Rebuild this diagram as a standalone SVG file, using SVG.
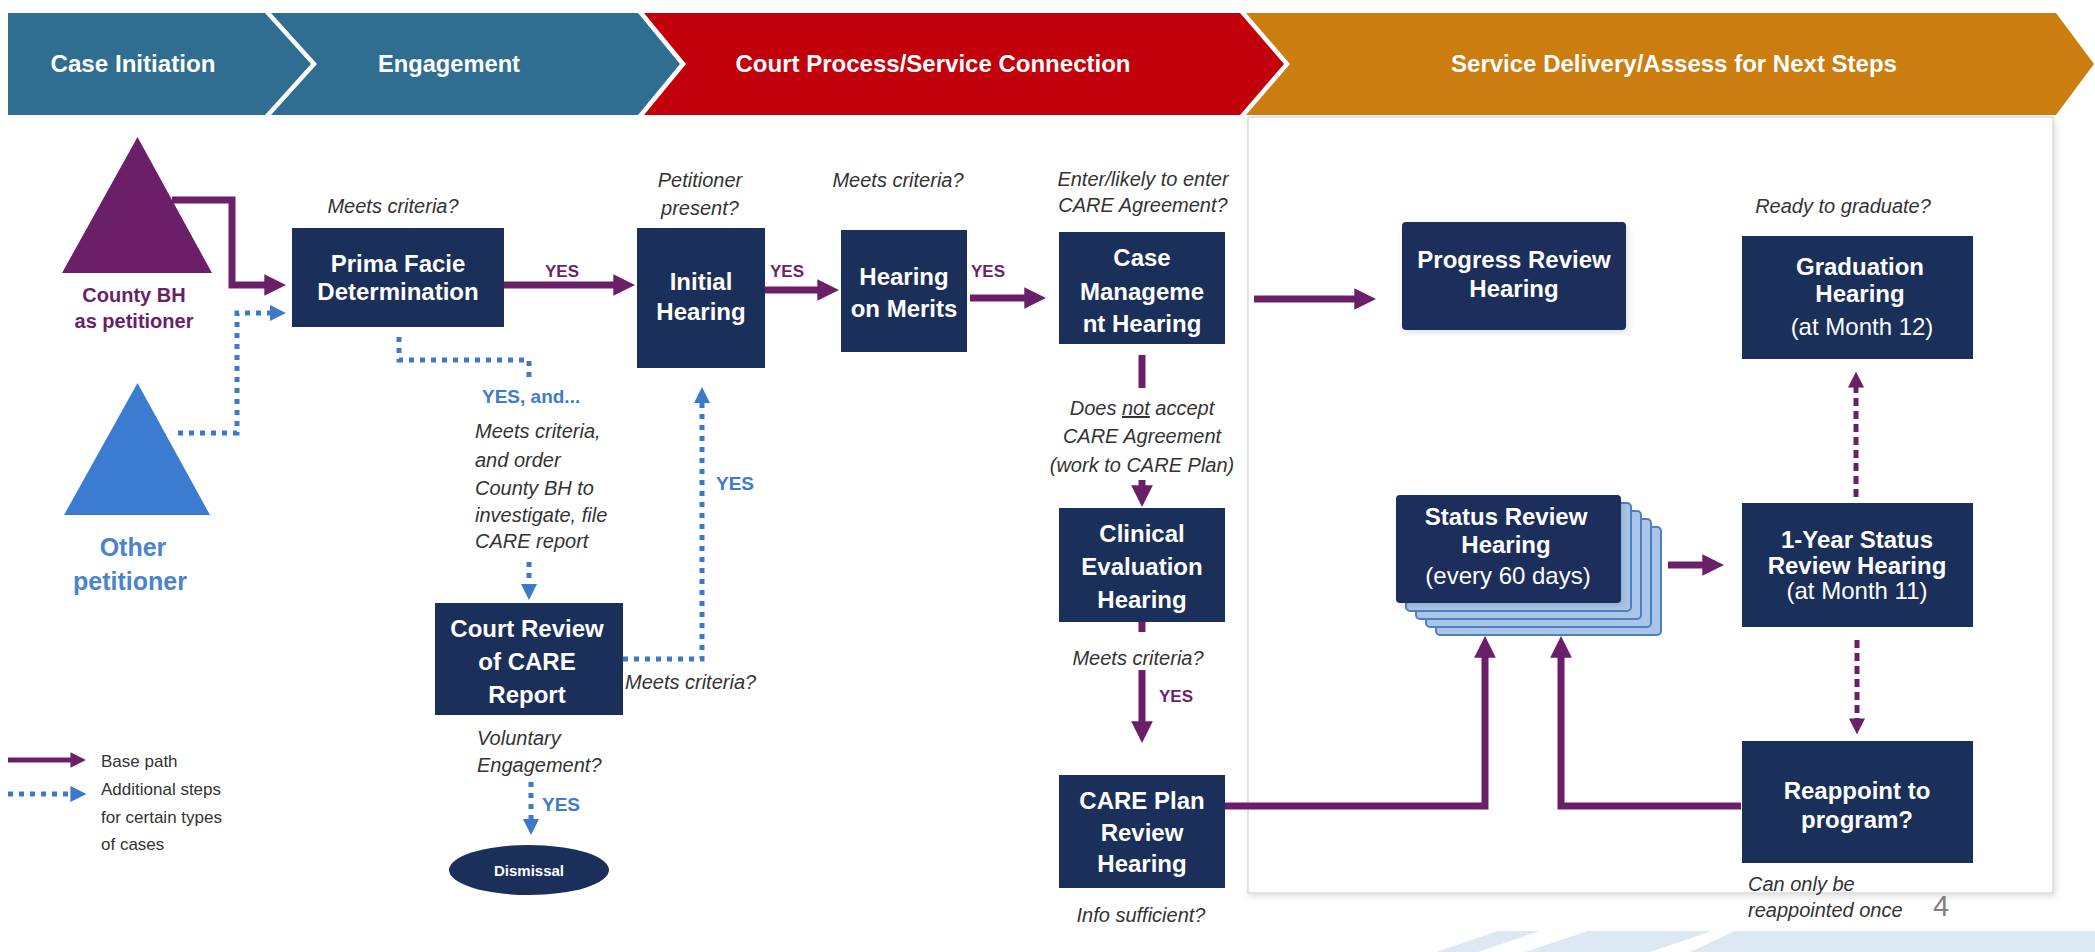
<svg xmlns="http://www.w3.org/2000/svg" width="2095" height="952" viewBox="0 0 2095 952">
<style>
.box{fill:#1B2F5B}
.bt{font-family:"Liberation Sans",Arial,sans-serif;font-weight:bold;font-size:24px;fill:#fff;text-anchor:middle}
.bn{font-family:"Liberation Sans",Arial,sans-serif;font-size:24px;fill:#fff;text-anchor:middle}
.it{font-family:"Liberation Sans",Arial,sans-serif;font-style:italic;font-size:20px;fill:#333}
.itc{text-anchor:middle}
.ban{font-family:"Liberation Sans",Arial,sans-serif;font-weight:bold;font-size:23px;fill:#fff;text-anchor:middle}
.yp{font-family:"Liberation Sans",Arial,sans-serif;font-weight:bold;font-size:17px;fill:#6B1F68;text-anchor:middle}
.yb{font-family:"Liberation Sans",Arial,sans-serif;font-weight:bold;font-size:19px;fill:#3E7BCB}
.leg{font-family:"Liberation Sans",Arial,sans-serif;font-size:17px;fill:#333}
.base{fill:none;stroke:#6B1F68;stroke-width:7;marker-end:url(#ap)}
.line{fill:none;stroke:#6B1F68;stroke-width:7}
.dotb{fill:none;stroke:#3D78C9;stroke-width:5;stroke-dasharray:5 6}
.dotba{fill:none;stroke:#3D78C9;stroke-width:5;stroke-dasharray:5 6;marker-end:url(#ab)}
.dotp{fill:none;stroke:#6B1F68;stroke-width:5;stroke-dasharray:8 5;marker-end:url(#ap2)}
.card{fill:#A9C6EA;stroke:#4F80BC;stroke-width:2}
</style>
<defs>
<marker id="ap" viewBox="0 0 10 10" refX="1" refY="5" markerWidth="3.1" markerHeight="3.1" orient="auto" markerUnits="strokeWidth"><path d="M0,0 L10,5 L0,10 z" fill="#6B1F68"/></marker>
<marker id="ap2" viewBox="0 0 10 10" refX="1" refY="5" markerWidth="3.2" markerHeight="3.4" orient="auto" markerUnits="strokeWidth"><path d="M0,0 L10,5 L0,10 z" fill="#6B1F68"/></marker>
<marker id="ab" viewBox="0 0 10 10" refX="1" refY="5" markerWidth="3.2" markerHeight="3.4" orient="auto" markerUnits="strokeWidth"><path d="M0,0 L10,5 L0,10 z" fill="#3D78C9"/></marker>
<filter id="sh" x="-5%" y="-5%" width="110%" height="110%"><feDropShadow dx="2" dy="3" stdDeviation="3" flood-color="#000" flood-opacity="0.12"/></filter>
</defs>

<!-- banner -->
<g id="banner">
<polygon points="8,13 265,13 311,64 265,115 8,115" fill="#2F6E91"/>
<polygon points="271,13 638,13 680,64 638,115 271,115 317,64" fill="#2F6E91"/>
<polygon points="644,13 1240,13 1284,64 1240,115 644,115 686,64" fill="#C1000B"/>
<polygon points="1246,13 2056,13 2094,64 2056,115 1246,115 1290,64" fill="#CB7D10"/>
<text class="ban" x="133" y="72" textLength="165" lengthAdjust="spacingAndGlyphs">Case Initiation</text>
<text class="ban" x="449" y="72" textLength="142" lengthAdjust="spacingAndGlyphs">Engagement</text>
<text class="ban" x="933" y="72" textLength="395" lengthAdjust="spacingAndGlyphs">Court Process/Service Connection</text>
<text class="ban" x="1674" y="72" textLength="446" lengthAdjust="spacingAndGlyphs">Service Delivery/Assess for Next Steps</text>
</g>

<!-- panel -->
<rect id="panel" x="1248" y="117" width="805" height="776" fill="#fff" stroke="#dcdcdc" stroke-width="1.5" filter="url(#sh)"/>

<!-- bottom decoration -->
<g id="deco" fill="#DCE8F4">
<polygon points="1436,952 1498,931 1540,931 1478,952"/>
<polygon points="1525,952 1588,931 1712,931 1650,952"/>
<polygon points="1690,952 1735,931 2095,931 2095,952"/>
</g>

<!-- connectors -->
<g id="connectors">
<path class="base" d="M172,200 H232 V285 H266.5"/>
<path class="base" d="M504,285 H615.5"/>
<path class="base" d="M765,290 H819.5"/>
<path class="base" d="M970,298 H1026.5"/>
<path class="base" d="M1254,299 H1356.5"/>
<path class="line" d="M1142,355 V388"/>
<path class="base" d="M1142,480 V487.5"/>
<path class="line" d="M1142,622 V632"/>
<path class="base" d="M1142,670 V723.5"/>
<path class="base" d="M1225,806 H1485 V655.5"/>
<path class="base" d="M1741,806 H1561 V655.5"/>
<path class="base" d="M1668,565 H1704.5"/>
<path class="dotp" d="M1856,497 V386"/>
<path class="dotp" d="M1857,640 V720"/>
<path class="dotba" d="M178,433 H237 V313 H271.5"/>
<path class="dotb" d="M399,337 V360 H529 V380"/>
<path class="dotba" d="M529,562 V585.6"/>
<path class="dotba" d="M623,659 H702 V401.4"/>
<path class="dotba" d="M531,782 V820.6"/>
<text class="yp" x="562" y="277">YES</text>
<text class="yp" x="787" y="277">YES</text>
<text class="yp" x="988" y="277">YES</text>
<text class="yp" x="1176" y="702">YES</text>
<text class="yb" x="716" y="490">YES</text>
<text class="yb" x="542" y="811">YES</text>
</g>

<!-- petitioners -->
<g id="county-bh">
<polygon points="137.5,137 62,273 212,273" fill="#6B1F68"/>
<text x="134" y="302" font-family="Liberation Sans, Arial, sans-serif" font-weight="bold" font-size="20" fill="#6B1F68" text-anchor="middle">County BH</text>
<text x="134" y="328" font-family="Liberation Sans, Arial, sans-serif" font-weight="bold" font-size="20" fill="#6B1F68" text-anchor="middle">as petitioner</text>
</g>
<g id="other-petitioner">
<polygon points="137.5,383 64,515 210,515" fill="#3C7CD0"/>
<text x="133" y="556" font-family="Liberation Sans, Arial, sans-serif" font-weight="bold" font-size="25" fill="#4A84CF" text-anchor="middle">Other</text>
<text x="130" y="590" font-family="Liberation Sans, Arial, sans-serif" font-weight="bold" font-size="25" fill="#4A84CF" text-anchor="middle">petitioner</text>
</g>

<!-- nodes -->
<g id="prima-facie">
<text class="it itc" x="393" y="213">Meets criteria?</text>
<rect class="box" x="292" y="228" width="212" height="99"/>
<text class="bt" x="398" y="272">Prima Facie</text>
<text class="bt" x="398" y="300">Determination</text>
</g>
<g id="yes-and-note">
<text class="yb" x="482" y="403">YES, and...</text>
<text class="it" x="475" y="438">Meets criteria,</text>
<text class="it" x="475" y="467">and order</text>
<text class="it" x="475" y="495">County BH to</text>
<text class="it" x="475" y="522">investigate, file</text>
<text class="it" x="475" y="548">CARE report</text>
</g>
<g id="initial-hearing">
<text class="it itc" x="700" y="187">Petitioner</text>
<text class="it itc" x="700" y="215">present?</text>
<rect class="box" x="637" y="228" width="128" height="140"/>
<text class="bt" x="701" y="290">Initial</text>
<text class="bt" x="701" y="320">Hearing</text>
</g>
<g id="hearing-on-merits">
<text class="it itc" x="898" y="187">Meets criteria?</text>
<rect class="box" x="841" y="230" width="126" height="122"/>
<text class="bt" x="904" y="285">Hearing</text>
<text class="bt" x="904" y="317">on Merits</text>
</g>
<g id="case-management">
<text class="it itc" x="1143" y="186">Enter/likely to enter</text>
<text class="it itc" x="1143" y="212">CARE Agreement?</text>
<rect class="box" x="1059" y="232" width="166" height="112"/>
<text class="bt" x="1142" y="266">Case</text>
<text class="bt" x="1142" y="300">Manageme</text>
<text class="bt" x="1142" y="332">nt Hearing</text>
<text class="it itc" x="1142" y="415">Does <tspan text-decoration="underline">not</tspan> accept</text>
<text class="it itc" x="1142" y="443">CARE Agreement</text>
<text class="it itc" x="1142" y="472">(work to CARE Plan)</text>
</g>
<g id="clinical-evaluation">
<rect class="box" x="1059" y="508" width="166" height="114"/>
<text class="bt" x="1142" y="542">Clinical</text>
<text class="bt" x="1142" y="575">Evaluation</text>
<text class="bt" x="1142" y="608">Hearing</text>
<text class="it itc" x="1138" y="665">Meets criteria?</text>
</g>
<g id="care-plan-review">
<rect class="box" x="1059" y="775" width="166" height="113"/>
<text class="bt" x="1142" y="809">CARE Plan</text>
<text class="bt" x="1142" y="841">Review</text>
<text class="bt" x="1142" y="872">Hearing</text>
<text class="it itc" x="1141" y="922">Info sufficient?</text>
</g>
<g id="court-review">
<rect class="box" x="435" y="603" width="188" height="112"/>
<text class="bt" x="527" y="637">Court Review</text>
<text class="bt" x="527" y="670">of CARE</text>
<text class="bt" x="527" y="703">Report</text>
<text class="it" x="625" y="689">Meets criteria?</text>
<text class="it" x="477" y="745">Voluntary</text>
<text class="it" x="477" y="772">Engagement?</text>
</g>
<g id="dismissal">
<ellipse cx="529" cy="870" rx="80" ry="25" fill="#1B2F5B"/>
<text x="529" y="876" font-family="Liberation Sans, Arial, sans-serif" font-weight="bold" font-size="15" fill="#fff" text-anchor="middle">Dismissal</text>
</g>
<g id="progress-review">
<rect class="box" x="1402" y="222" width="224" height="108" rx="4" filter="url(#sh)"/>
<text class="bt" x="1514" y="268">Progress Review</text>
<text class="bt" x="1514" y="297">Hearing</text>
</g>
<g id="graduation">
<text class="it itc" x="1843" y="213">Ready to graduate?</text>
<rect class="box" x="1742" y="236" width="231" height="123"/>
<text class="bt" x="1860" y="275">Graduation</text>
<text class="bt" x="1860" y="302">Hearing</text>
<text class="bn" x="1862" y="335">(at Month 12)</text>
</g>
<g id="status-review">
<rect class="card" x="1436" y="527" width="225" height="108" rx="4"/>
<rect class="card" x="1426" y="519" width="225" height="108" rx="4"/>
<rect class="card" x="1416" y="511" width="225" height="108" rx="4"/>
<rect class="card" x="1406" y="503" width="225" height="108" rx="4"/>
<rect class="box" x="1396" y="495" width="225" height="108" rx="4" filter="url(#sh)"/>
<text class="bt" x="1506" y="525">Status Review</text>
<text class="bt" x="1506" y="553">Hearing</text>
<text class="bn" x="1508" y="584">(every 60 days)</text>
</g>
<g id="one-year">
<rect class="box" x="1742" y="503" width="231" height="124"/>
<text class="bt" x="1857" y="548">1-Year Status</text>
<text class="bt" x="1857" y="574">Review Hearing</text>
<text class="bn" x="1857" y="599">(at Month 11)</text>
</g>
<g id="reappoint">
<rect class="box" x="1742" y="741" width="231" height="122"/>
<text class="bt" x="1857" y="799">Reappoint to</text>
<text class="bt" x="1857" y="828">program?</text>
<text class="it" x="1748" y="891">Can only be</text>
<text class="it" x="1748" y="917">reappointed once</text>
</g>

<!-- legend -->
<g id="legend">
<path d="M8,760 H72" fill="none" stroke="#6B1F68" stroke-width="5" marker-end="url(#ap)"/>
<path d="M8,794 H72" fill="none" stroke="#3D78C9" stroke-width="5" stroke-dasharray="5 6" marker-end="url(#ab)"/>
<text class="leg" x="101" y="767">Base path</text>
<text class="leg" x="101" y="795">Additional steps</text>
<text class="leg" x="101" y="823">for certain types</text>
<text class="leg" x="101" y="850">of cases</text>
</g>

<text id="page-number" x="1941" y="916" font-family="Liberation Sans, Arial, sans-serif" font-size="29" fill="#7F7F7F" text-anchor="middle">4</text>
</svg>
